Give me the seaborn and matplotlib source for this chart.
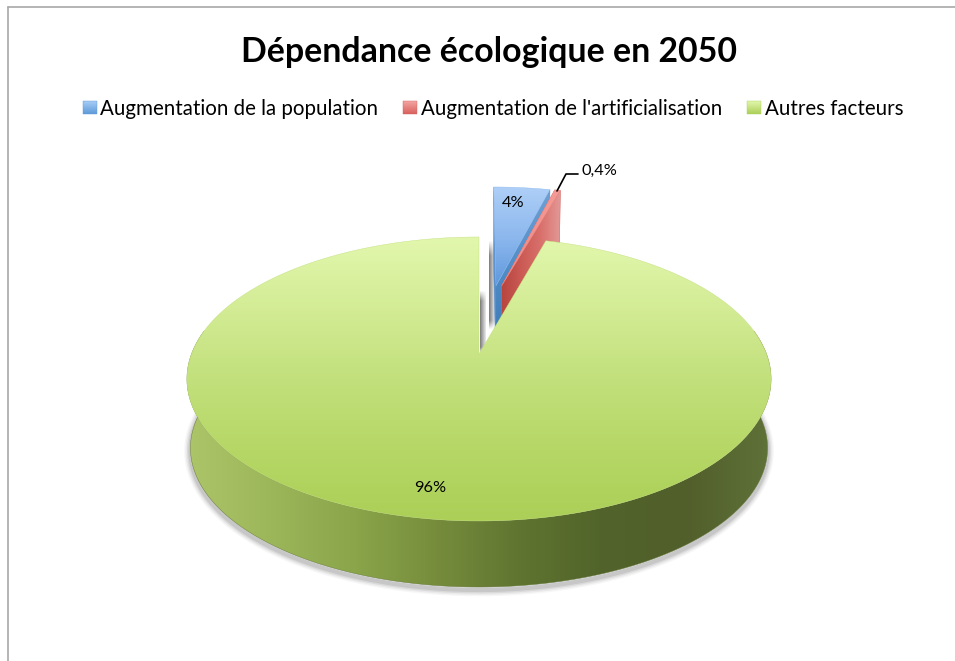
import numpy as np
import matplotlib
matplotlib.use("Agg")
import matplotlib.pyplot as plt
from matplotlib.patches import Polygon
import seaborn as sns

# Chart content
title = "Dépendance écologique en 2050"
categories = ["Augmentation de la population", "Augmentation de l'artificialisation", "Autres facteurs"]
values = [4, 0.4, 96]

sns.set_theme(style="white")
plt.rcParams["font.family"] = ["Lato", "DejaVu Sans"]

W, H = 955, 661
fig = plt.figure(figsize=(W / 100, H / 100), dpi=100, facecolor="white")
ax = fig.add_axes([0, 0, 1, 1])
ax.set_xlim(0, W)
ax.set_ylim(H, 0)
ax.axis("off")

# Perspective model of the disc: unit circle in the plane, z=0 top face, z=1 bottom face
CX, CY, A, B, K, DEPTH = 479.0, 354.0, 287.5, 137.6, 0.176, 69.5


def project(x, y, z=0.0):
    d = 1 + K * y
    return (CX + A * (1 - 0.012 * z) * x / d,
            CY + DEPTH * z - B * (1 - 0.021 * z) * y / d)


def arc(t1, t2, off=(0, 0), z=0.0, n=240):
    t = np.radians(np.linspace(t1, t2, n))
    return np.column_stack(project(off[0] + np.cos(t), off[1] + np.sin(t), z))


def gradient(poly, colors, horizontal=False, zorder=2):
    """Fill a polygon with a colour ramp running along x or y."""
    cmap = sns.blend_palette(colors, as_cmap=True)
    x0, y0 = poly.min(axis=0)
    x1, y1 = poly.max(axis=0)
    ramp = np.linspace(0, 1, 256)
    ramp = ramp[None, :] if horizontal else ramp[:, None]
    im = ax.imshow(ramp, cmap=cmap, extent=(x0, x1, y1, y0), aspect="auto",
                   interpolation="bilinear", zorder=zorder, origin="upper")
    patch = Polygon(poly, closed=True, transform=ax.transData, fc="none", ec="none")
    ax.add_patch(patch)
    im.set_clip_path(patch)
    ax.fill(poly[:, 0], poly[:, 1], fc="none", ec=colors[len(colors) // 2], lw=0.3, zorder=zorder)


def fade_strip(x0, x1, y0, y1, grey=0.42, alpha=0.9, zorder=1.5):
    """Soft vertical cast shadow beside an exploded slice."""
    rgba = np.zeros((64, 32, 4))
    rgba[..., :3] = grey
    across = np.linspace(1, 0.15, 32)
    along = np.clip(np.minimum(np.linspace(0, 1, 64) * 6, np.linspace(1, 0, 64) * 10), 0, 1)
    rgba[..., 3] = alpha * across[None, :] * along[:, None]
    ax.imshow(rgba, extent=(x0, x1, y1, y0), aspect="auto", interpolation="bilinear", zorder=zorder)


# Slice angles run clockwise from twelve o'clock
shares = np.array(values) / np.sum(values) * 360
a_blue = (90, 90 - shares[0])
a_red = (a_blue[1], a_blue[1] - shares[1])
a_green = (a_red[1], a_red[1] - shares[2])

# The small slices are pulled out of the disc, the second a little further right
pull_blue = 0.547 * np.array([np.cos(np.radians(83.2)), np.sin(np.radians(83.2))])
pull_red = 0.547 * np.array([np.cos(np.radians(81.0)), np.sin(np.radians(81.0))])


def apex(off, z=0.0):
    return np.array(project(off[0], off[1], z))


def cut_face(angle, off):
    t = np.radians(angle)
    rim = (off[0] + np.cos(t), off[1] + np.sin(t))
    return np.array([apex(off), project(*rim, 0.0), project(*rim, 1.0), apex(off, 1.0)])


def top_face(a, off):
    return np.vstack([apex(off), arc(a[0], a[1], off, 0.0, 30)])


def rim_face(a, off):
    return np.vstack([arc(a[0], a[1], off, 0.0, 30), arc(a[1], a[0], off, 1.0, 30)])


# Cast shadows in the gap between the slices and the disc
fade_strip(488.5, 494.5, 240, 330, zorder=1.2)
fade_strip(480, 486, 290, 354, zorder=1.2)

# Pulled-out slices, back to front
gradient(cut_face(a_blue[0], pull_blue), ["#6b9fd8", "#4d86c4"], zorder=1.4)
gradient(cut_face(a_blue[1], pull_blue), ["#6fa0d4", "#4f8cc6", "#3a76b2"], zorder=1.5)
gradient(top_face(a_blue, pull_blue), ["#aecff7", "#8db8ee", "#5f98dc"], zorder=1.6)
gradient(cut_face(a_red[0], pull_red), ["#ee8f8c", "#d9605a", "#c04c46"], zorder=1.75)
gradient(rim_face(a_red, pull_red), ["#e39a98", "#d67f7d"], zorder=1.8)
gradient(cut_face(a_red[1], pull_red), ["#b8443e", "#cb5a54", "#d9706c", "#e39a98"],
         horizontal=True, zorder=1.9)
gradient(top_face(a_red, pull_red), ["#f59a96", "#ee8a86"], zorder=1.95)

# Soft shadow below the thick disc
edge = np.vstack([arc(175, 365, (0, 0), 1.0)])
edge[:, 1] += 3
for lw, al in [(9, 0.05), (7, 0.07), (5, 0.10), (3, 0.14)]:
    ax.plot(edge[:, 0], edge[:, 1], color="#555555", lw=lw, alpha=al, zorder=2.1,
            solid_capstyle="round")

# Main slice: outer wall, then top face
wall = np.vstack([arc(170, 370, (0, 0), 0.0), arc(370, 170, (0, 0), 1.0)])
gradient(wall, ["#acc568", "#9cb65a", "#8aa54a", "#768c3c", "#5f7430", "#51632a", "#525f2c", "#5f7238"],
         horizontal=True, zorder=2.2)
top_green = np.vstack([apex((0, 0)), arc(a_green[0], a_green[1], (0, 0), 0.0, 720)])
gradient(top_green, ["#e2f7ad", "#d3ec95", "#c2e07c", "#b6d766", "#abcf57"], zorder=2.4)

# Data labels, drawn from the values
fmt = [f"{v:g}%".replace(".", ",") for v in values]
ax.text(513.5, 203, fmt[0], ha="center", va="center", fontsize=11.8, color="black", zorder=5)
ax.text(599.5, 170.5, fmt[1], ha="center", va="center", fontsize=11.8, color="black", zorder=5)
ax.text(430, 488.5, fmt[2], ha="center", va="center", fontsize=11.8, color="black", zorder=5)
ax.plot([557, 566, 578], [191, 174, 174], color="black", lw=1.2, zorder=5)

# Title
ax.text(488.5, 52, title, ha="center", va="center", fontsize=24.4, fontweight="bold", color="black")

# Legend row
legend_marks = [(83, ["#a8cdf8", "#5d9ad8"]), (403, ["#f4a6a4", "#d8605c"]), (747, ["#e2f7ad", "#abcf57"])]
legend_text_x = [100, 421, 765]
for (mx, cols), tx, name in zip(legend_marks, legend_text_x, categories):
    box = np.array([[mx, 101], [mx + 14, 101], [mx + 14, 114], [mx, 114]])
    gradient(box, cols, zorder=3)
    ax.text(tx, 109, name, ha="left", va="center", fontsize=14.8, color="black")

# Chart frame: only the top and left edges fall inside the canvas
ax.plot([8, 8], [7, H], color="#a8a8a8", lw=1.2, zorder=6)
ax.plot([8, W], [7, 7], color="#a8a8a8", lw=1.2, zorder=6)

ax.set_xlim(0, W)
ax.set_ylim(H, 0)
fig.savefig("out.png", dpi=100, facecolor="white")
